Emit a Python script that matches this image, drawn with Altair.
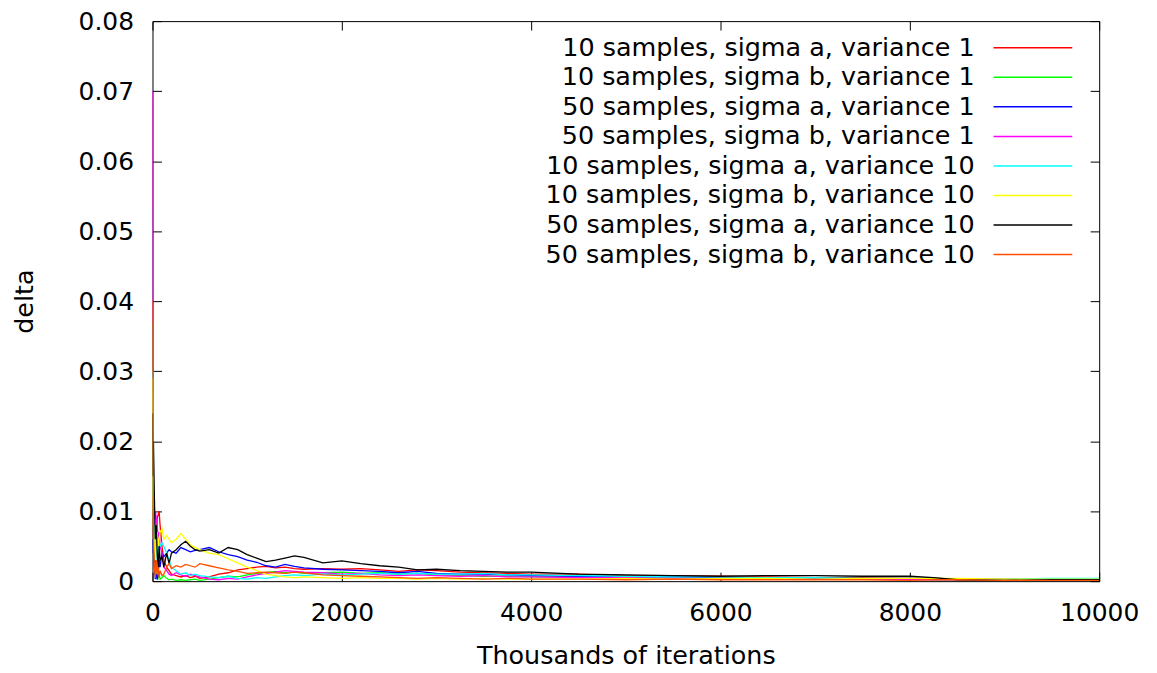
import altair as alt
import pandas as pd

# ---- data ----
iterations = [0, 5, 10, 20, 30, 40, 50, 60, 70, 80, 100, 120, 150, 175, 200, 250, 300, 350, 400, 450,
              500, 600, 700, 800, 900, 1000, 1100, 1200, 1300, 1400, 1500, 1600, 1800, 2000, 2200, 2400,
              2600, 2800, 3000, 3250, 3500, 3750, 4000, 4500, 5000, 5500, 6000, 6500, 7000, 7500, 8000,
              8250, 8500, 9000, 9500, 10000]

s10_a_v1 = [0.012, 0.008, 0.006, 0.004, 0.002, 0.006, 0.009, 0.0095, 0.010, 0.008, 0.005, 0.003, 0.002,
            0.0015, 0.001, 0.0008, 0.0006, 0.0008, 0.0005, 0.0007, 0.0004, 0.0006, 0.0010, 0.0012, 0.0016,
            0.0018, 0.0020, 0.0021, 0.0019, 0.0020, 0.0018, 0.0017, 0.0018, 0.0017, 0.0018, 0.0016, 0.0014,
            0.0016, 0.0015, 0.0013, 0.0012, 0.0011, 0.0010, 0.0010, 0.0008, 0.0008, 0.0007, 0.0006, 0.0005,
            0.0005, 0.0004, 0.0004, 0.0003, 0.0003, 0.0003, 0.0003]
s10_b_v1 = [0.037, 0.018, 0.008, 0.003, 0.001, 0.002, 0.001, 0.0005, 0.001, 0.0003, 0.0005, 0.0008, 0.0004,
            0.0002, 0.0003, 0.0001, 0.0002, 0.0001, 0.0002, 0.0003, 0.0001, 0.0003, 0.0005, 0.0007, 0.0006,
            0.0009, 0.0011, 0.0012, 0.0014, 0.0012, 0.0013, 0.0011, 0.0012, 0.0013, 0.0011, 0.0012, 0.0010,
            0.0011, 0.0009, 0.0008, 0.0007, 0.0007, 0.0006, 0.0006, 0.0005, 0.0004, 0.0004, 0.0004, 0.0003,
            0.0003, 0.0003, 0.0002, 0.0002, 0.0002, 0.0003, 0.0003]
s50_a_v1 = [0.006, 0.004, 0.005, 0.002, 0.0003, 0.001, 0.0002, 0.001, 0.003, 0.002, 0.004, 0.0035, 0.0040,
            0.0045, 0.0042, 0.0040, 0.0048, 0.0045, 0.0042, 0.0044, 0.0045, 0.0048, 0.0042, 0.0038, 0.0035,
            0.0030, 0.0027, 0.0022, 0.0020, 0.0024, 0.0021, 0.0019, 0.0017, 0.0016, 0.0015, 0.0014, 0.0012,
            0.0014, 0.0011, 0.0010, 0.0010, 0.0009, 0.0008, 0.0007, 0.0006, 0.0006, 0.0005, 0.0005, 0.0004,
            0.0004, 0.0004, 0.0003, 0.0003, 0.0002, 0.0002, 0.0002]
s50_b_v1 = [0.070, 0.030, 0.012, 0.008, 0.010, 0.009, 0.008, 0.006, 0.007, 0.005, 0.004, 0.002, 0.0015,
            0.001, 0.0008, 0.0012, 0.0009, 0.0007, 0.0010, 0.0008, 0.0006, 0.0003, 0.0002, 0.0004, 0.0003,
            0.0006, 0.0009, 0.0011, 0.0013, 0.0015, 0.0014, 0.0013, 0.0012, 0.0010, 0.0011, 0.0009, 0.0008,
            0.0009, 0.0008, 0.0007, 0.0008, 0.0006, 0.0006, 0.0005, 0.0005, 0.0004, 0.0004, 0.0003, 0.0003,
            0.0003, 0.0002, 0.0002, 0.0002, 0.0002, 0.0002, 0.0002]
s10_a_v10 = [0.030, 0.015, 0.010, 0.006, 0.004, 0.005, 0.003, 0.004, 0.0055, 0.005, 0.0055, 0.005, 0.004,
             0.003, 0.002, 0.0015, 0.0010, 0.0012, 0.0008, 0.0010, 0.0008, 0.0006, 0.0005, 0.0007, 0.0004,
             0.0003, 0.0005, 0.0004, 0.0006, 0.0008, 0.0009, 0.0008, 0.0010, 0.0009, 0.0010, 0.0011, 0.0010,
             0.0011, 0.0010, 0.0010, 0.0011, 0.0009, 0.0009, 0.0008, 0.0007, 0.0006, 0.0006, 0.0005, 0.0005,
             0.0004, 0.0004, 0.0004, 0.0003, 0.0003, 0.0004, 0.0004]
s10_b_v10 = [0.029, 0.012, 0.008, 0.005, 0.003, 0.006, 0.007, 0.005, 0.006, 0.007, 0.0075, 0.006, 0.0065,
             0.006, 0.0055, 0.006, 0.0068, 0.0060, 0.0052, 0.0048, 0.0045, 0.0040, 0.0038, 0.0032, 0.0026,
             0.0020, 0.0015, 0.0010, 0.0008, 0.0006, 0.0005, 0.0006, 0.0005, 0.0004, 0.0005, 0.0004, 0.0004,
             0.0003, 0.0004, 0.0003, 0.0004, 0.0003, 0.0003, 0.0003, 0.0004, 0.0003, 0.0004, 0.0004, 0.0003,
             0.0004, 0.0004, 0.0004, 0.0004, 0.0003, 0.0003, 0.0003]
s50_a_v10 = [0.024, 0.015, 0.020, 0.012, 0.006, 0.008, 0.004, 0.002, 0.005, 0.003, 0.0035, 0.002, 0.004,
             0.0025, 0.004, 0.0045, 0.0052, 0.0057, 0.0050, 0.0045, 0.0043, 0.0045, 0.0040, 0.0048, 0.0045,
             0.0038, 0.0033, 0.0028, 0.0030, 0.0033, 0.0036, 0.0034, 0.0026, 0.0029, 0.0025, 0.0022, 0.0020,
             0.0016, 0.0017, 0.0015, 0.0014, 0.0013, 0.0013, 0.0010, 0.0009, 0.0008, 0.0007, 0.0008, 0.0008,
             0.0007, 0.0007, 0.0005, 0.0002, 0.0001, 0.0002, 0.0002]
s50_b_v10 = [0.040, 0.016, 0.006, 0.002, 0.0005, 0.003, 0.001, 0.002, 0.0005, 0.0015, 0.0008, 0.001, 0.002,
             0.0025, 0.0018, 0.0022, 0.0020, 0.0024, 0.0022, 0.0020, 0.0025, 0.0022, 0.0019, 0.0016, 0.0014,
             0.0011, 0.0012, 0.0013, 0.0012, 0.0011, 0.0013, 0.0012, 0.0009, 0.0008, 0.0007, 0.0006, 0.0005,
             0.0004, 0.0005, 0.0004, 0.0003, 0.0004, 0.0003, 0.0003, 0.0002, 0.0003, 0.0002, 0.0002, 0.0002,
             0.0002, 0.0001, 0.0002, 0.0002, 0.0001, 0.0001, 0.0001]

series_names = [
    "10 samples, sigma a, variance 1",
    "10 samples, sigma b, variance 1",
    "50 samples, sigma a, variance 1",
    "50 samples, sigma b, variance 1",
    "10 samples, sigma a, variance 10",
    "10 samples, sigma b, variance 10",
    "50 samples, sigma a, variance 10",
    "50 samples, sigma b, variance 10",
]
series_values = [s10_a_v1, s10_b_v1, s50_a_v1, s50_b_v1, s10_a_v10, s10_b_v10, s50_a_v10, s50_b_v10]
series_colors = ["#ff0000", "#00ff00", "#0000ff", "#ff00ff", "#00ffff", "#ffff00", "#000000", "#ff5000"]

x_ticks = [0, 2000, 4000, 6000, 8000, 10000]
y_ticks = [0, 0.01, 0.02, 0.03, 0.04, 0.05, 0.06, 0.07, 0.08]

rows = []
for k, (name, vals) in enumerate(zip(series_names, series_values)):
    for i, (it, d) in enumerate(zip(iterations, vals)):
        rows.append({"series": name, "it": it, "delta": d, "idx": i})
df = pd.DataFrame(rows)
legend_df = pd.DataFrame({"series": series_names})

W, H = 950, 562
FONT = "DejaVu Sans"

x_scale = alt.Scale(domain=[0, 10000], nice=False, zero=False)
y_scale = alt.Scale(domain=[0, 0.08], nice=False)
color_scale = alt.Scale(domain=series_names, range=series_colors)

lines = alt.Chart(df).mark_line(strokeWidth=1.3, clip=True).encode(
    x=alt.X("it:Q", scale=x_scale, axis=alt.Axis(
        orient="bottom", values=x_ticks, format="d", ticks=False, tickSize=0, domain=False, grid=False,
        labelFontSize=25, labelPadding=19, labelFlush=False, labelOverlap=False,
        title="Thousands of iterations", titleFontSize=25.5, titleX=W / 2, titleY=75,
        titleBaseline="middle", titleAlign="center")),
    y=alt.Y("delta:Q", scale=y_scale, axis=alt.Axis(
        orient="left", values=y_ticks, format=".2~f", ticks=False, tickSize=0, domain=False, grid=False,
        labelFontSize=25, labelPadding=19, labelFlush=False, labelOverlap=False,
        title="delta", titleFontSize=25.5, titleX=-128, titleY=H / 2, titleAngle=-90,
        titleBaseline="middle", titleAlign="center")),
    color=alt.Color("series:N", scale=color_scale, legend=None),
    order=alt.Order("idx:Q"),
)


def tick_layer(x_orient, x_off, y_orient, y_off):
    return alt.Chart(df).mark_line(opacity=0).encode(
        x=alt.X("it:Q", scale=x_scale, axis=alt.Axis(
            orient=x_orient, offset=x_off, values=x_ticks, labels=False, ticks=True, tickSize=9,
            tickColor="black", domain=False, grid=False, title="")),
        y=alt.Y("delta:Q", scale=y_scale, axis=alt.Axis(
            orient=y_orient, offset=y_off, values=y_ticks, labels=False, ticks=True, tickSize=9,
            tickColor="black", domain=False, grid=False, title="")),
        detail="series:N",
    )


ticks_in = tick_layer("top", -H, "right", -W)      # bottom & left edges, pointing inward
ticks_mirror = tick_layer("bottom", -H, "left", -W)  # top & right edges, pointing inward

legend_y = alt.Y("series:N", scale=alt.Scale(type="point", domain=series_names, range=[26.7, 234.3], padding=0),
                 axis=None)
legend_lines = alt.Chart(legend_df).mark_rule(strokeWidth=1.5).encode(
    x=alt.value(844), x2=alt.value(923), y=legend_y,
    color=alt.Color("series:N", scale=color_scale, legend=None),
)
legend_text = alt.Chart(legend_df).mark_text(align="right", baseline="middle", fontSize=25.5, font=FONT,
                                             color="black").encode(
    x=alt.value(825), y=legend_y, text="series:N",
)

chart = alt.layer(lines, ticks_in, ticks_mirror, legend_lines, legend_text).resolve_scale(
    y="independent"
).resolve_axis(x="independent").properties(
    width=W, height=H,
    autosize=alt.AutoSizeParams(type="none"),
    padding={"left": 145, "top": 12, "right": 50, "bottom": 90},
    background="white",
).configure_view(stroke="black", strokeWidth=1).configure_axis(
    labelFont=FONT, titleFont=FONT, labelColor="black", titleColor="black", titleFontWeight="normal"
)

chart.save("out.html", embed_options={"renderer": "svg", "actions": False})
